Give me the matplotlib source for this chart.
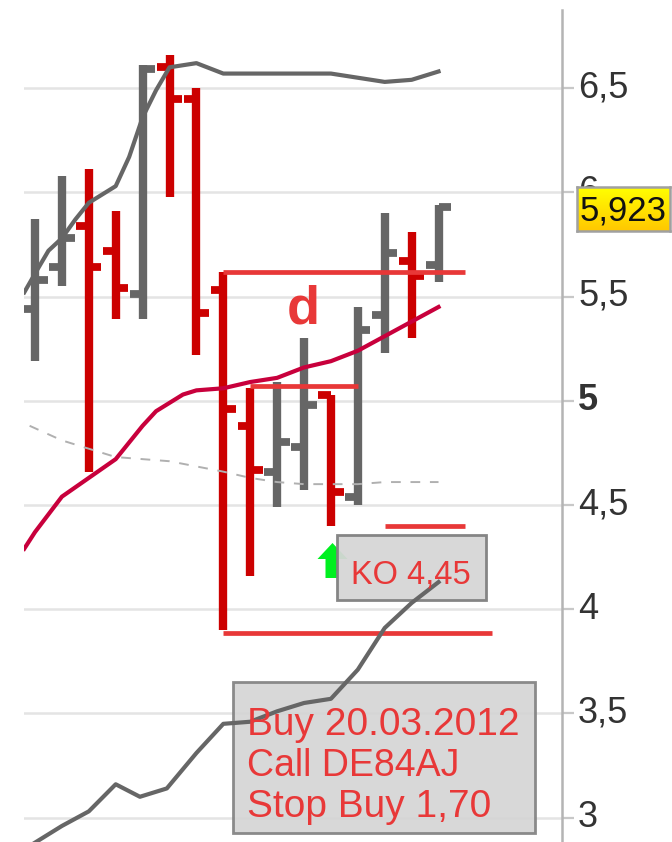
import numpy as np
import matplotlib
matplotlib.use('Agg')
from matplotlib import pyplot as plt
from matplotlib.colors import LinearSegmentedColormap
from matplotlib.patches import Rectangle
from matplotlib.transforms import ScaledTranslation

plt.rcParams['font.family'] = ['Liberation Sans', 'DejaVu Sans']

# ohlc bars
highs = [5.87, 6.08, 6.11, 5.91, 6.61, 6.66, 6.50, 5.62, 5.06, 5.09, 5.30, 5.03, 5.45, 5.90, 5.81, 5.94]
lows = [5.19, 5.55, 4.66, 5.39, 5.39, 5.98, 5.22, 3.90, 4.16, 4.49, 4.57, 4.40, 4.50, 5.23, 5.30, 5.57]
opens = [5.44, 5.64, 5.84, 5.72, 5.51, 6.60, 6.45, 5.53, 4.88, 4.66, 4.78, 5.03, 4.54, 5.41, 5.67, 5.65]
closes = [5.58, 5.78, 5.64, 5.54, 6.59, 6.45, 5.42, 4.96, 4.67, 4.80, 4.98, 4.56, 5.34, 5.71, 5.60, 5.93]

# moving averages
upper_x = [-0.4, 0, 0.5, 1, 1.5, 2, 3, 3.5, 4, 4.5, 5, 5.5, 6, 7, 8, 9, 10, 11, 12, 13, 14, 15]
upper_y = [5.52, 5.61, 5.72, 5.78, 5.87, 5.95, 6.03, 6.17, 6.36, 6.49, 6.60, 6.61, 6.62, 6.57, 6.57, 6.57, 6.57, 6.57, 6.55, 6.53, 6.54, 6.58]
mid_x = [-0.4, 0, 1, 2, 3, 4, 4.5, 5, 5.5, 6, 7, 8, 9, 10, 11, 12, 13, 14, 15]
mid_y = [4.29, 4.37, 4.54, 4.63, 4.72, 4.88, 4.95, 4.99, 5.03, 5.05, 5.06, 5.09, 5.11, 5.16, 5.19, 5.24, 5.31, 5.38, 5.45]
dash_x = [-0.2, 1, 3, 5, 7, 8, 9, 10, 12, 13, 15]
dash_y = [4.88, 4.81, 4.73, 4.71, 4.66, 4.63, 4.61, 4.60, 4.60, 4.61, 4.61]
lower_x = [0, 1, 2, 3, 3.9, 4.9, 6, 7, 8, 9, 10, 11, 12, 13, 14, 15]
lower_y = [2.88, 2.96, 3.03, 3.16, 3.10, 3.14, 3.31, 3.45, 3.46, 3.51, 3.55, 3.57, 3.71, 3.91, 4.03, 4.13]

# drawn levels
level_y = [5.62, 5.07, 3.885, 4.40]
level_start = [7, 8, 7, 13]
level_end = [16, 12, 17, 16]

tick_vals = [3, 3.5, 4, 4.5, 5, 5.5, 6, 6.5]
tick_labels = ['3', '3,5', '4', '4,5', '5', '5,5', '6', '6,5']
last_price = '5,923'

RED = '#cc0000'
GREY = '#666666'
LINE_RED = '#e83838'

fig = plt.figure(figsize=(6.72, 8.42), dpi=100)
ax = fig.add_axes([24/672, 0, (562-24)/672, 832/842])
ax.set_xlim(-0.409, 19.59)
ax.set_ylim(2.883, 6.875)

ax.yaxis.tick_right()
ax.tick_params(axis='y', length=8.6, width=1.6, color='#c8c8c8', pad=3)
ax.set_yticks(tick_vals)
ax.set_yticklabels(tick_labels, fontsize=26, color='#333333')
# labels sit a little above their gridline
up = ScaledTranslation(0, 3/72, fig.dpi_scale_trans)
for lab, v in zip(ax.get_yticklabels(), tick_vals):
    lab.set_transform(lab.get_transform() + up)
    if v == 5:
        lab.set_fontweight('bold')
ax.set_xticks([])
ax.grid(axis='y', color='#e4e4e4', lw=1.8, zorder=0)
ax.set_axisbelow(True)
for s in ['top', 'left', 'bottom']:
    ax.spines[s].set_visible(False)
ax.spines['right'].set_color('#b4b4b4')
ax.spines['right'].set_linewidth(1.8)

# bars
for i in range(len(highs)):
    c = GREY if closes[i] > opens[i] else RED
    ax.vlines(i, lows[i], highs[i], color=c, lw=6, zorder=2)
    ax.hlines(opens[i], i-0.47, i, color=c, lw=5.6, zorder=2)
    ax.hlines(closes[i], i, i+0.47, color=c, lw=5.6, zorder=2)

ax.plot(dash_x, dash_y, color='#b0b0b0', lw=1.4, ls=(0, (5, 5)), zorder=3)
ax.plot(upper_x, upper_y, color=GREY, lw=3, zorder=3)
ax.plot(mid_x, mid_y, color='#c8003c', lw=3, zorder=3)
ax.hlines(level_y, level_start, level_end, color=LINE_RED, lw=3.4, zorder=4)

ax.text(9.96, 5.37, 'd', color=LINE_RED, fontsize=39, fontweight='bold', ha='center', va='baseline', zorder=5)

# signal arrow, the KO box sits on top of it
arrow = [(0, 17.5), (15, 1.5), (6.5, 1.5), (6.5, -17.5), (-7, -17.5), (-7, 1.5), (-15, 1.5), (0, 17.5)]
ax.plot([11.04], [4.234], marker=arrow, ms=25.2, color='#00f020', mec='none', ls='none', zorder=5)

ax.add_patch(Rectangle((11.23, 4.044), 5.54, 0.312, fc='#d6d6d6', ec='#808080', lw=2, alpha=0.95, zorder=6))
ax.add_patch(Rectangle((7.36, 2.926), 11.23, 0.725, fc='#d4d4d4', ec='#808080', lw=2, alpha=0.9, zorder=6))
ax.plot(lower_x, lower_y, color=GREY, lw=3, zorder=7)

ax.text(11.75, 4.125, 'KO 4,45', color=LINE_RED, fontsize=23.5, va='baseline', zorder=8)
ax.text(7.88, 3.396, 'Buy 20.03.2012', color=LINE_RED, fontsize=28, va='baseline', zorder=8)
ax.text(7.88, 3.20, 'Call DE84AJ', color=LINE_RED, fontsize=27, va='baseline', zorder=8)
ax.text(7.88, 3.003, 'Stop Buy 1,70', color=LINE_RED, fontsize=28, va='baseline', zorder=8)

# last price tag
tag = fig.add_axes([577/672, 1-231/842, 93/672, 44/842])
yellow = LinearSegmentedColormap.from_list('tag', ['#ffff00', '#ffc800'])
tag.imshow(np.linspace(0, 1, 44).reshape(-1, 1), cmap=yellow, aspect='auto', extent=(0, 1, 0, 1))
tag.set_xticks([])
tag.set_yticks([])
for s in tag.spines.values():
    s.set_color('#a0a0a0')
    s.set_linewidth(1.8)
tag.text(0.5, 0.24, last_price, color='#111111', fontsize=25, ha='center', va='baseline')

fig.savefig('out.png', dpi=100)
